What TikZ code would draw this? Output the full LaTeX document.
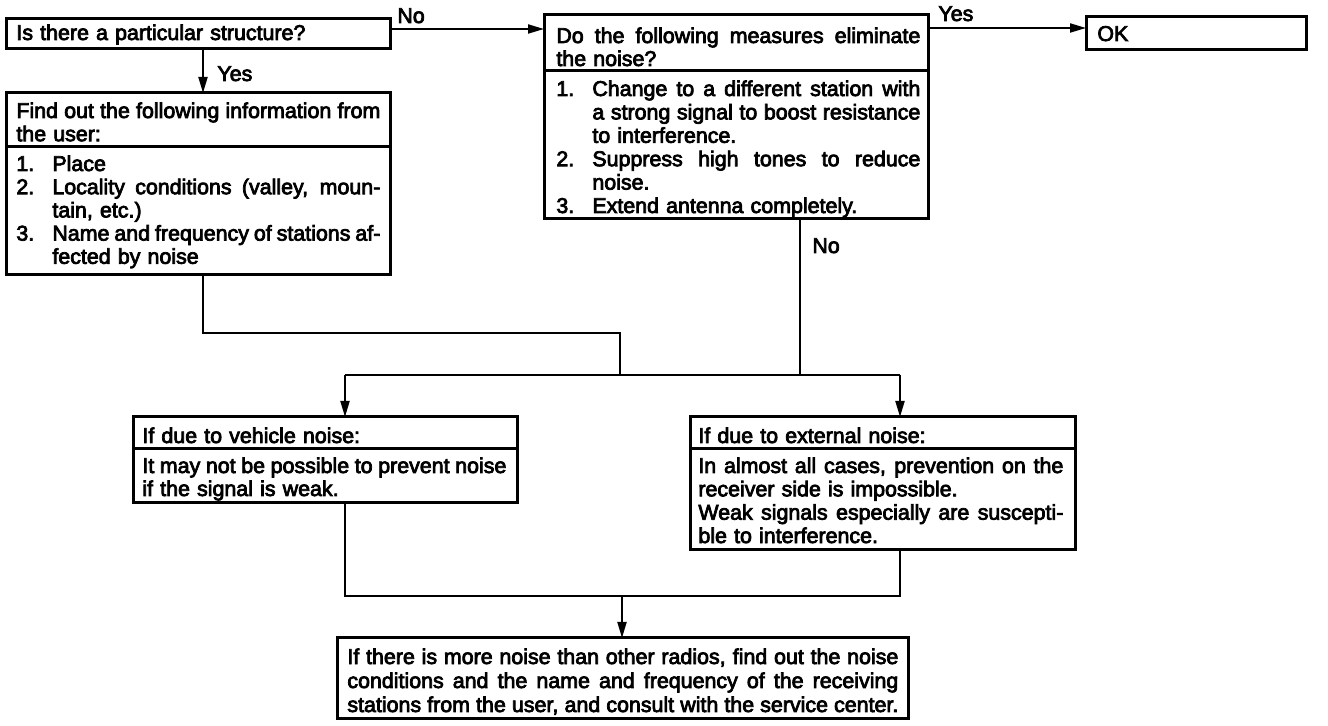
\documentclass[tikz,border=0pt]{standalone}
\usepackage{fontspec}
\setmainfont{Liberation Sans}
\newfontfamily\hv{Liberation Sans}[FakeBold=3.5]
\usetikzlibrary{arrows.meta,calc}
\newcommand\sk{\spaceskip=0.25em plus 3em minus 0.1em\relax}
\newcommand\jl[1]{\makebox[\linewidth][s]{\sk #1}}
\newcommand\itm[2]{\makebox[18pt][l]{#1}#2}
\newcommand\itj[2]{\makebox[18pt][l]{#1}\makebox[\dimexpr\linewidth-18pt\relax][s]{\sk #2}}
\newcommand\cnt[1]{\hspace*{18pt}#1}
\newcommand\cntj[1]{\hspace*{18pt}\makebox[\dimexpr\linewidth-18pt\relax][s]{\sk #1}}
\begin{document}
\begin{tikzpicture}[x=0.5pt,y=-0.5pt,
  box/.style={draw,line width=1.5pt,inner sep=0pt,outer sep=0pt,anchor=north west},
  txt/.style={anchor=base west,inner sep=0pt,align=left,text width=182pt,
    font=\hv\fontsize{10.7}{11.5}\selectfont},
  lbl/.style={anchor=base west,inner sep=0pt,font=\hv\fontsize{10.7}{11.5}\selectfont},
  conn/.style={line width=1pt},
  arr/.style={line width=1pt,-{Triangle[length=8pt,width=4.5pt]}}]
\useasboundingbox (0,0) rectangle (1328,726);
% boxes
\node[box,minimum width=192pt,minimum height=15pt] (A) at (6,19) {};
\node[box,minimum width=192pt,minimum height=28pt] (Bh) at (544,15) {};
\node[box,minimum width=192pt,minimum height=74pt] (Bb) at (544,71) {};
\node[box,minimum width=110pt,minimum height=16.5pt] (OK) at (1086,17) {};
\node[box,minimum width=192pt,minimum height=27pt] (Ch) at (6,93) {};
\node[box,minimum width=192pt,minimum height=64pt] (Cb) at (6,147) {};
\node[box,minimum width=192pt,minimum height=16pt] (Dh) at (133,417) {};
\node[box,minimum width=192pt,minimum height=27pt] (Db) at (133,449) {};
\node[box,minimum width=192.5pt,minimum height=16pt] (Eh) at (690,417) {};
\node[box,minimum width=192.5pt,minimum height=50.5pt] (Eb) at (690,449) {};
\node[box,minimum width=285.5pt,minimum height=40pt] (F) at (337,638) {};
% texts
\node[txt] (tA) at (16,40) {Is there a particular structure?};
\node[txt] (tBh) at (556,43) {\jl{Do the following measures eliminate}\\the noise?};
\node[txt,font=\hv\fontsize{10.7}{11.7}\selectfont] (tBb) at (556,96) {\itj{1.}{Change to a different station with}\\
  \cntj{a strong signal to boost resistance}\\
  \cnt{to interference.}\\
  \itj{2.}{Suppress high tones to reduce}\\
  \cnt{noise.}\\
  \itm{3.}{Extend antenna completely.}};
\node[lbl] (tOK) at (1097,41) {OK};
\node[txt,font=\hv\fontsize{10.7}{11.6}\selectfont] (tCh) at (16,118) {\jl{Find out the following information from}\\the user:};
\node[txt,font=\hv\fontsize{10.7}{11.6}\selectfont] (tCb) at (16,171) {\itm{1.}{Place}\\
  \itj{2.}{Locality conditions (valley, moun-}\\
  \cnt{tain, etc.)}\\
  \itj{3.}{Name and frequency of stations af-}\\
  \cnt{fected by noise}};
\node[txt] (tDh) at (142,443) {If due to vehicle noise:};
\node[txt] (tDb) at (142,473) {\jl{It may not be possible to prevent noise}\\if the signal is weak.};
\node[txt,text width=182.5pt] (tEh) at (698,443) {If due to external noise:};
\node[txt,text width=182.5pt,font=\hv\fontsize{10.7}{11.67}\selectfont] (tEb) at (698,473) {\jl{In almost all cases, prevention on the}\\
  receiver side is impossible.\\
  \jl{Weak signals especially are suscepti-}\\
  ble to interference.};
\node[txt,text width=275.5pt,font=\hv\fontsize{10.7}{12}\selectfont] (tF) at (347,664) {\jl{If there is more noise than other radios, find out the noise}\\
  \jl{conditions and the name and frequency of the receiving}\\
  \jl{stations from the user, and consult with the service center.}};
% labels
\node[lbl] (lNo1) at (397,23) {No};
\node[lbl] (lYes1) at (217,81) {Yes};
\node[lbl] (lYes2) at (938,21) {Yes};
\node[lbl] (lNo2) at (812,253) {No};
% connectors
\coordinate (aout) at (390,29);
\coordinate (bout) at (928,28);
\coordinate (cx) at (203,0);
\coordinate (bx) at (800,219);
\coordinate (j1) at (620,333);
\coordinate (j2) at (620,375);
\coordinate (jd) at (345,375);
\coordinate (je) at (900,375);
\coordinate (k) at (622,596);
\draw[arr] (aout) -- (aout -| Bh.west);
\draw[arr] (bout) -- (bout -| OK.west);
\draw[arr] (cx |- A.south) -- (cx |- Ch.north);
\draw[conn] (cx |- Cb.south) |- (j1) -- (j2);
\draw[conn] (bx) -- (bx |- jd);
\draw[conn] (jd) -- (je);
\draw[arr] (jd) -- (jd |- Dh.north);
\draw[arr] (je) -- (je |- Eh.north);
\draw[conn] (jd |- Db.south) |- (k) -| (je |- Eb.south);
\draw[arr] (k) -- (k |- F.north);
\end{tikzpicture}
\end{document}
